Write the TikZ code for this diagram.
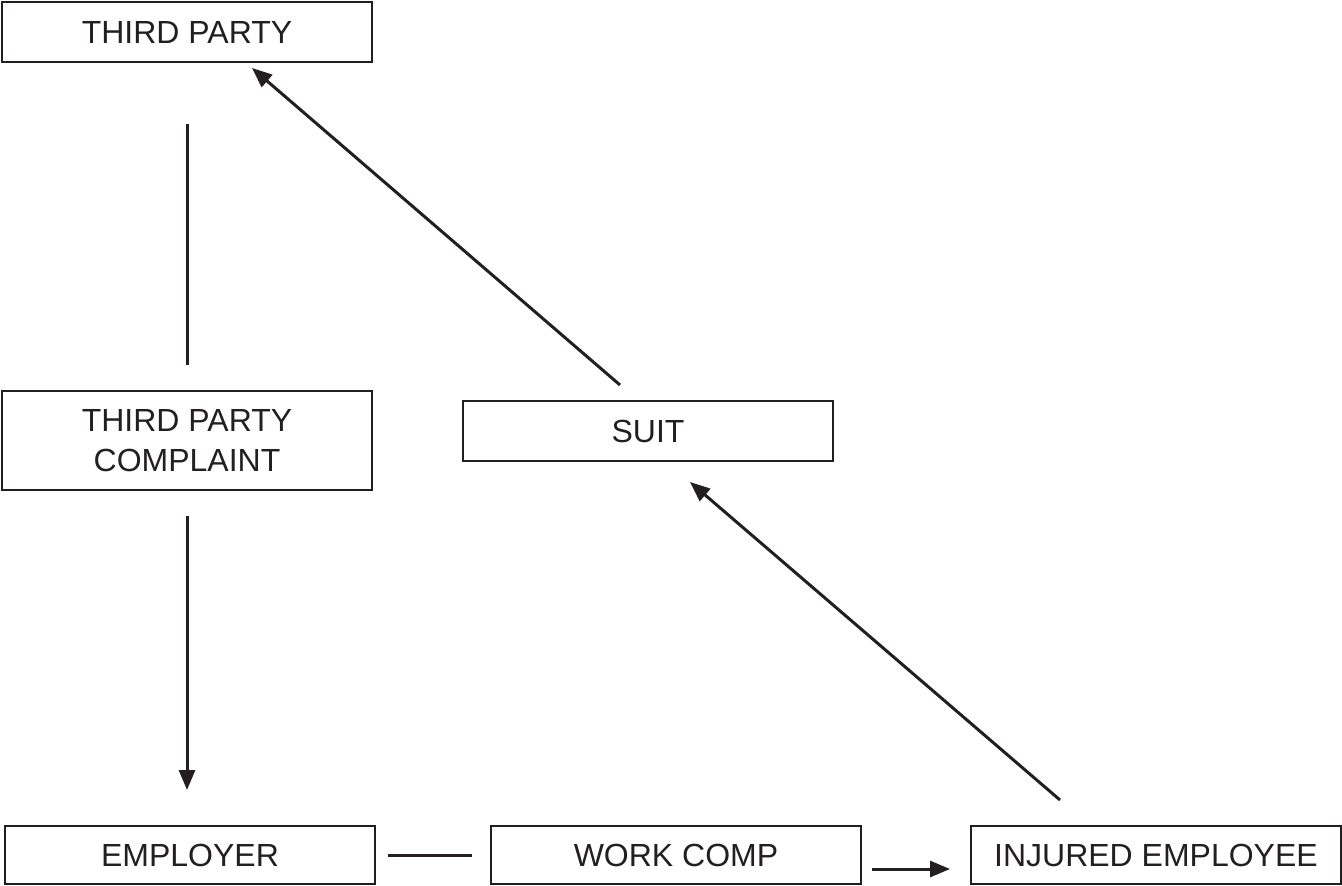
\documentclass[tikz,border=0pt]{standalone}
\usepackage{fontspec}
\setmainfont{Liberation Sans}
\usetikzlibrary{arrows.meta}
\definecolor{ink}{RGB}{35,31,32}
\begin{document}
\begin{tikzpicture}[x=1pt,y=-1pt,
  box/.style={draw=ink, line width=2.4pt, minimum width=370pt, inner sep=0pt,
    align=center, font=\fontsize{32}{40}\selectfont, text=ink},
  link/.style={draw=ink, line width=3pt},
  arr/.style={link, -{Triangle[length=20pt,width=16pt]}}]
\useasboundingbox (0,0) rectangle (1342,886);

% boxes
\node[box, minimum height=60pt] (tp)  at (187,32)   {THIRD PARTY};
\node[box, minimum height=99pt] (tpc) at (187,440.5) {THIRD PARTY\\COMPLAINT};
\node[box, minimum height=60pt] (suit) at (648,431)  {SUIT};
\node[box, minimum height=58pt] (emp) at (190,855)  {EMPLOYER};
\node[box, minimum height=58pt] (wc)  at (676,855)  {WORK COMP};
\node[box, minimum height=58pt] (ie)  at (1156,855) {INJURED EMPLOYEE};

% free ends of the connectors
\coordinate (tpLow)   at (187,124);
\coordinate (tpcHigh) at (187,365);
\coordinate (tpcLow)  at (187,516);
\coordinate (empHigh) at (187,790);
\coordinate (suitTop) at (620,385);
\coordinate (tpTip)   at (252,68);
\coordinate (ieTop)   at (1060,800);
\coordinate (suitTip) at (690,482);
\coordinate (empR)    at (388,855);
\coordinate (wcL)     at (472,855);
\coordinate (wcR)     at (872,869);
\coordinate (ieL)     at (950,869);

% connectors
\draw[link] (tpLow) -- (tpcHigh);
\draw[arr] (tpcLow) -- (empHigh);
\draw[arr] (suitTop) -- (tpTip);
\draw[arr] (ieTop) -- (suitTip);
\draw[link] (empR) -- (wcL);
\draw[arr] (wcR) -- (ieL);
\end{tikzpicture}
\end{document}
